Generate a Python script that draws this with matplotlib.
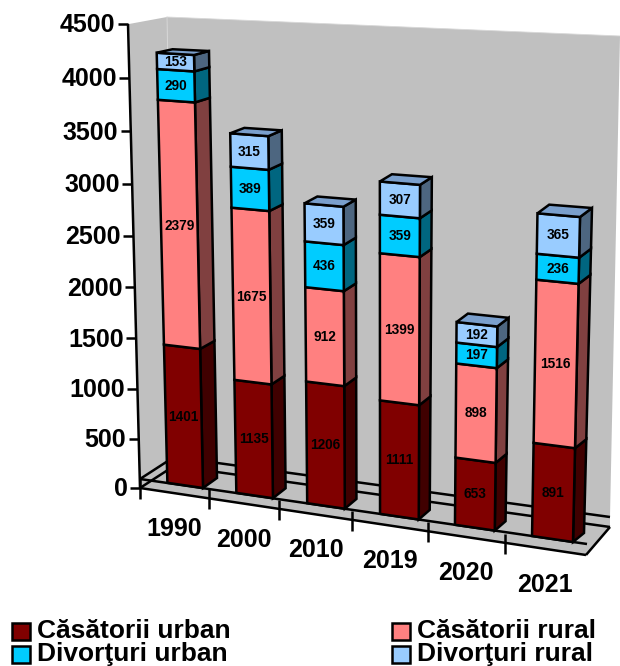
import numpy as np
import matplotlib
matplotlib.use('Agg')
import matplotlib.pyplot as plt
from matplotlib.patches import Polygon, Rectangle

years = ['1990', '2000', '2010', '2019', '2020', '2021']
casatorii_urban = [1401, 1135, 1206, 1111, 653, 891]
casatorii_rural = [2379, 1675, 912, 1399, 898, 1516]
divorturi_urban = [290, 389, 436, 359, 197, 236]
divorturi_rural = [153, 315, 359, 307, 192, 365]
yticks = [0, 500, 1000, 1500, 2000, 2500, 3000, 3500, 4000, 4500]

series = [casatorii_urban, casatorii_rural, divorturi_urban, divorturi_rural]
names = ['Căsătorii urban', 'Căsătorii rural', 'Divorţuri urban', 'Divorţuri rural']
front_col = ['#800000', '#FF8080', '#00CCFF', '#99CCFF']
side_col = ['#400000', '#804040', '#006680', '#4D6680']
top_col = '#7A9FCC'
wall_col = '#C0C0C0'

plt.rcParams['font.family'] = ['Liberation Sans', 'DejaVu Sans']
plt.rcParams['font.weight'] = 'bold'

LW = 1.8
BAR_W = 0.52


def fit_plane(src, dst):
    # homography from (category, value) to pixels
    A, b = [], []
    for (u, v), (x, y) in zip(src, dst):
        A.append([u, v, 1, 0, 0, 0, -u * x, -v * x])
        A.append([0, 0, 0, u, v, 1, -u * y, -v * y])
        b += [x, y]
    h = np.linalg.solve(np.array(A, float), np.array(b, float))
    return np.append(h, 1).reshape(3, 3)


def proj(H, u, v):
    p = H @ np.array([u, v, 1.0])
    return p[0] / p[2], p[1] / p[2]


def poly(ax, pts, color, z, lw=LW):
    ax.add_patch(Polygon(pts, closed=True, facecolor=color, edgecolor='black',
                         linewidth=lw, joinstyle='miter', zorder=z))


def line(ax, a, b, z=2):
    ax.plot([a[0], b[0]], [a[1], b[1]], color='black', lw=LW,
            solid_capstyle='butt', zorder=z)


fig = plt.figure(figsize=(6.2, 6.66), dpi=100)
ax = fig.add_axes([0, 0, 1, 1])
ax.set_xlim(0, 620)
ax.set_ylim(666, 0)
ax.axis('off')

# chart planes
axis_plane = fit_plane([(0, 0), (6, 0), (0, 4500), (6, 4500)],
                       [(140, 488), (586, 555), (128, 24), (597, 45)])
bar_src = [(BAR_W, 0), (5 + BAR_W, 0), (BAR_W, 4223), (5 + BAR_W, 3008)]
bar_front = fit_plane(bar_src, [(203, 488), (573, 542), (194, 55), (580, 217)])
bar_back = fit_plane(bar_src, [(217, 478), (584, 533), (209, 51), (592, 208)])

# walls and floor
ax.add_patch(Polygon([(129, 24), (167, 17), (174, 457), (140, 479)], facecolor=wall_col,
                     edgecolor='none', zorder=1))
ax.add_patch(Polygon([(167, 17), (620, 36), (610, 517), (174, 457)], facecolor=wall_col,
                     edgecolor='none', zorder=1))
ax.add_patch(Polygon([(140, 479), (174, 457), (610, 517), (610, 527), (586, 555), (140, 488)],
                     facecolor=wall_col, edgecolor='none', zorder=1))
ax.plot([167, 174], [17, 457], color='#D8D8D8', lw=0.6, zorder=1)
ax.plot([167, 620], [17, 36], color='#D8D8D8', lw=0.6, zorder=1)
line(ax, (140, 479), (174, 457))
line(ax, (174, 457), (610, 517))
line(ax, (174, 466), (610, 527))
line(ax, (140, 488), (174, 466))
line(ax, (140, 479), (587, 544))
line(ax, (586, 555), (610, 527))

# value axis
line(ax, proj(axis_plane, 0, 4500), proj(axis_plane, 0, 0))
for t in yticks:
    x, y = proj(axis_plane, 0, t)
    line(ax, (x - 10, y), (x, y))
    ax.text(x - 12.5, y + 1.5, str(t), ha='right', va='center', fontsize=18, zorder=5)

# category axis
line(ax, proj(axis_plane, 0, 0), proj(axis_plane, 6, 0))
for i in range(6):
    x, y = proj(axis_plane, i, 0)
    line(ax, (x, y - 9), (x, y + 11))
    x0, y0 = proj(axis_plane, i + 0.5, 0)
    ax.text(x0, y0 + 36, years[i], ha='center', va='center', fontsize=18, zorder=5)

# stacked bars, left to right
for i in range(6):
    left, right = i, i + BAR_W
    base = 0
    for s, vals in enumerate(series):
        tip = base + vals[i]
        poly(ax, [proj(bar_front, right, base), proj(bar_back, right, base),
                  proj(bar_back, right, tip), proj(bar_front, right, tip)], side_col[s], 3)
        poly(ax, [proj(bar_front, left, base), proj(bar_front, right, base),
                  proj(bar_front, right, tip), proj(bar_front, left, tip)], front_col[s], 3)
        cx, cy = proj(bar_front, (left + right) / 2, (base + tip) / 2)
        ax.text(cx, cy, str(vals[i]), ha='center', va='center', fontsize=9.8,
                color='black', zorder=6)
        base = tip
    poly(ax, [proj(bar_front, left, base), proj(bar_front, right, base),
              proj(bar_back, right, base), proj(bar_back, left, base)], top_col, 4)

# legend
legend_x = [(12, 37), (392, 417)]
legend_y = [631, 654]
for s, name in enumerate(names):
    col = s % 2
    row = s // 2
    sx, tx = legend_x[col]
    ax.add_patch(Rectangle((sx, legend_y[row] - 8.5), 18, 17, facecolor=front_col[s],
                           edgecolor='black', linewidth=LW, zorder=5))
    ax.text(tx, legend_y[row], name, ha='left', va='center', fontsize=19, zorder=5)

fig.savefig('out.png', dpi=100)
